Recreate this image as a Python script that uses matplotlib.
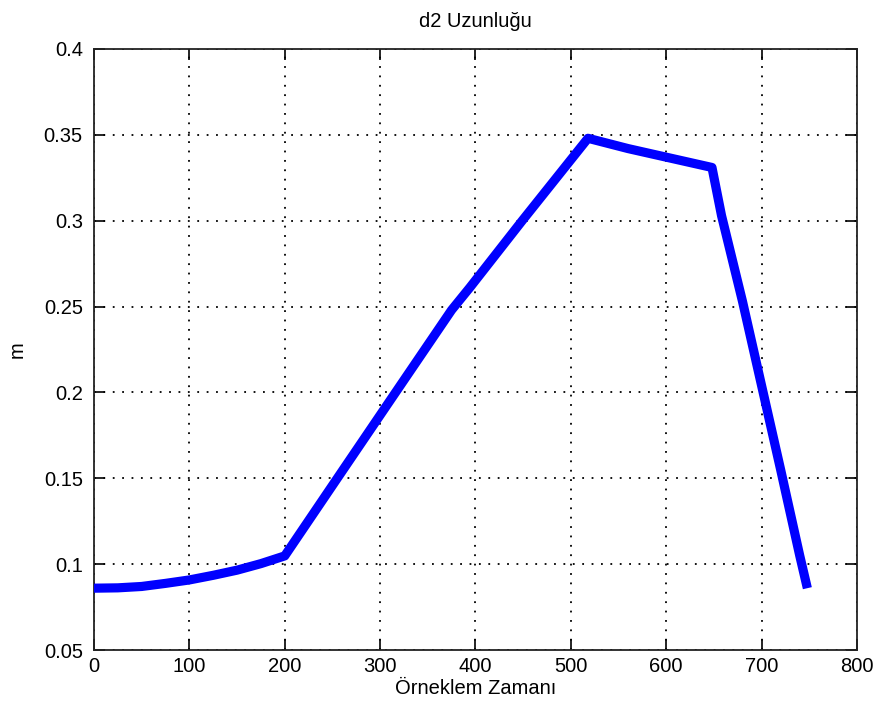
import matplotlib
matplotlib.use("Agg")
import matplotlib.pyplot as plt
from matplotlib.ticker import FormatStrFormatter

plt.rcParams['font.family'] = ['Liberation Sans', 'DejaVu Sans']

# Sample index and the measured d2 length (m)
sample = [0, 25, 50, 75, 100, 125, 150, 175, 200,
          260, 315, 375, 394, 449, 518,
          560, 600, 648,
          658, 680, 700, 720, 740, 748]
d2_length = [0.0860, 0.0862, 0.0870, 0.0888, 0.0908, 0.0935, 0.0965, 0.1003, 0.1048,
             0.154, 0.199, 0.248, 0.261, 0.300, 0.348,
             0.342, 0.337, 0.331,
             0.303, 0.253, 0.204, 0.155, 0.105, 0.086]

x_ticks = [0, 100, 200, 300, 400, 500, 600, 700, 800]
y_ticks = [0.05, 0.1, 0.15, 0.2, 0.25, 0.3, 0.35, 0.4]

fig = plt.figure(figsize=(8.8, 7.15), dpi=100)
ax = fig.add_axes([0.1068, 0.0909, 0.867, 0.8406])

ax.plot(sample, d2_length, color='#0000ff', linewidth=6.6,
        solid_joinstyle='round', solid_capstyle='butt', zorder=3)

ax.set_xlim(0, 800)
ax.set_ylim(0.05, 0.4)
ax.set_xticks(x_ticks)
ax.set_yticks(y_ticks)
ax.yaxis.set_major_formatter(FormatStrFormatter('%g'))

ax.grid(True, color='black', linestyle=(0, (1, 4.2)), linewidth=1.3)
ax.set_axisbelow(True)

ax.tick_params(direction='in', length=8, width=1.2, top=True, right=True,
               labelsize=14.5, colors='black')
ax.tick_params(axis='x', pad=5)
ax.tick_params(axis='y', pad=8)
for s in ax.spines.values():
    s.set_linewidth(1.3)
    s.set_color('#222222')

ax.set_title('d2 Uzunluğu', fontsize=14.5, pad=16)
ax.set_xlabel('Örneklem Zamanı', fontsize=14.5, labelpad=2)
ax.set_ylabel('m', fontsize=14.5, labelpad=12)

fig.savefig('out.png', dpi=100)
